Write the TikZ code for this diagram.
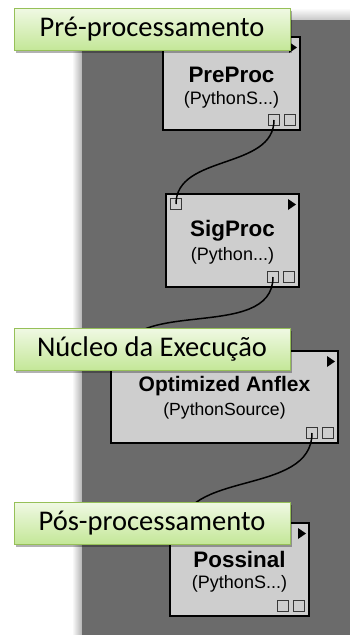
\documentclass[tikz,border=0pt]{standalone}
\usepackage{fontspec}
\setmainfont{Liberation Sans}
\newfontfamily\labelfont{Carlito}
\usetikzlibrary{shadows}
\definecolor{bggray}{RGB}{107,107,107}
\definecolor{boxgray}{RGB}{206,206,206}
\definecolor{portgray}{RGB}{55,55,55}
\definecolor{lgtop}{RGB}{240,249,228}
\definecolor{lgbot}{RGB}{196,231,152}
\definecolor{lgdraw}{RGB}{150,192,88}
\tikzset{
  procbox/.style={draw=black, line width=2pt, fill=boxgray, inner sep=0pt},
  titletext/.style={inner sep=0pt, anchor=center, font=\fontsize{22.4}{24}\selectfont\bfseries},
  subtext/.style={inner sep=0pt, anchor=center, font=\fontsize{18}{19}\selectfont},
  port/.style={draw=portgray, line width=1pt, fill=boxgray, minimum size=11pt, inner sep=0pt},
  wire/.style={draw=black, line width=1.5pt},
  lbl/.style={draw=lgdraw, line width=0.8pt, top color=lgtop, bottom color=lgbot,
    minimum width=276pt, minimum height=42pt, inner sep=0pt,
    font=\labelfont\fontsize{28.5}{30}\selectfont,
    drop shadow={shadow xshift=2pt, shadow yshift=-3pt, opacity=0.3, fill=black}},
  playmark/.style={fill=black}
}
\begin{document}
\begin{tikzpicture}[x=1pt,y=-1pt]
\useasboundingbox (0,0) rectangle (350,635);
\fill[white] (0,0) rectangle (350,635);
% background with soft shadows
\shade[left color=white, right color=black!30] (72,14) rectangle (82,635);
\shade[top color=white, bottom color=black!22] (82,8) rectangle (350,20);
\fill[bggray] (82,20) rectangle (350,635);

% process boxes
\node[procbox, minimum width=137pt, minimum height=93pt] (pre) at (231.5,83.5) {};
\node[procbox, minimum width=133pt, minimum height=93pt] (sig) at (232.5,240.5) {};
\node[procbox, minimum width=227pt, minimum height=92pt] (anf) at (224.5,397) {};
\node[procbox, minimum width=139pt, minimum height=93pt] (pos) at (239.5,569.5) {};

% texts
\node[titletext] (pre-t) at ([yshift=-39pt]pre.north) {PreProc};
\node[subtext]   (pre-s) at ([yshift=-64pt]pre.north) {(PythonS...)};
\node[titletext] (sig-t) at ([yshift=-38pt]sig.north) {SigProc};
\node[subtext]   (sig-s) at ([yshift=-63pt]sig.north) {(Python...)};
\node[titletext, font=\fontsize{21}{22}\selectfont\bfseries] (anf-t) at ([yshift=-36pt]anf.north) {Optimized Anflex};
\node[subtext, font=\fontsize{17.6}{19}\selectfont]   (anf-s) at ([yshift=-61pt]anf.north) {(PythonSource)};
\node[titletext] (pos-t) at ([yshift=-37pt]pos.north) {Possinal};
\node[subtext]   (pos-s) at ([yshift=-62pt]pos.north) {(PythonS...)};

% output ports
\foreach \n in {pre,sig,anf,pos}{
  \node[port, anchor=south east] (\n-o2) at ([xshift=-5pt,yshift=5pt]\n.south east) {};
  \node[port, anchor=east] (\n-o1) at ([xshift=-4pt]\n-o2.west) {};
  \fill[playmark] ([xshift=-12pt,yshift=-6pt]\n.north east) -- ++(8,5.5) -- ++(-8,5.5) -- cycle;
}
% input ports
\foreach \n in {sig,anf,pos}{
  \node[port, anchor=north west] (\n-i) at ([xshift=5pt,yshift=-5pt]\n.north west) {};
}

% connectors
\draw[wire] (pre-o1.center) .. controls +(0,50) and +(0,-50) .. (sig-i.center);
\draw[wire] (sig-o1.center) .. controls +(0,67) and +(0,-67) .. (anf-i.center);
\draw[wire] (anf-o1.center) .. controls +(0,64) and +(0,-64) .. (pos-i.center);

% stage labels
\node[lbl] (l1) at (152,29) {Pré-processamento};
\node[lbl] (l2) at (152,349) {Núcleo da Execução};
\node[lbl] (l3) at (152,523) {Pós-processamento};
\end{tikzpicture}
\end{document}
